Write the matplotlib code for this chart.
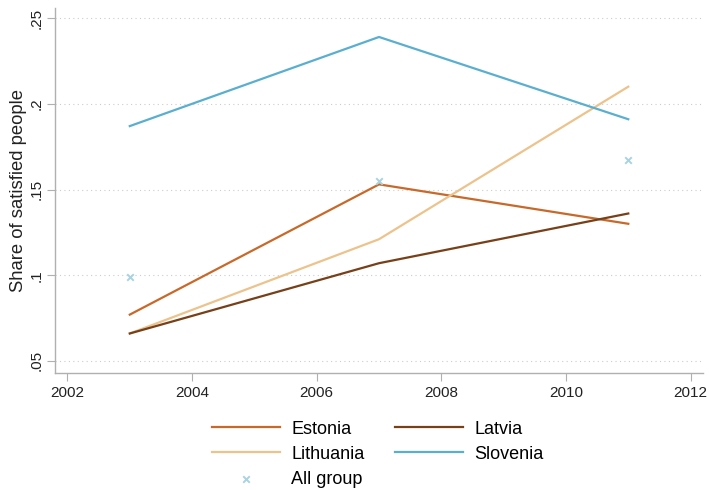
import numpy as np
import matplotlib.pyplot as plt

plt.rcParams['font.family'] = ['Liberation Sans', 'DejaVu Sans']

# survey waves
years = [2003, 2007, 2011]

# share of satisfied people by country
estonia = [0.077, 0.153, 0.130]
latvia = [0.066, 0.107, 0.136]
lithuania = [0.066, 0.121, 0.210]
slovenia = [0.187, 0.239, 0.191]
all_group = [0.099, 0.155, 0.167]

yticks = [0.05, 0.10, 0.15, 0.20, 0.25]
ytick_labels = [".05", ".1", ".15", ".2", ".25"]
xticks = [2002, 2004, 2006, 2008, 2010, 2012]

fig = plt.figure(figsize=(7.09, 4.9), dpi=100)
ax = fig.add_axes([0.0776, 0.239, 0.914, 0.745])

ax.plot(years, estonia, color="#c8692a", lw=1.6, label="Estonia")
ax.plot(years, lithuania, color="#ecc38c", lw=1.6, label="Lithuania")
ax.scatter(years, all_group, marker="x", s=22, color="#a9d3df", linewidths=1.4,
           label="All group", zorder=3)
ax.plot(years, latvia, color="#774019", lw=1.6, label="Latvia")
ax.plot(years, slovenia, color="#5aafd0", lw=1.6, label="Slovenia")

ax.set_xlim(2001.8, 2012.2)
ax.set_ylim(0.043, 0.256)
ax.set_xticks(xticks)
ax.set_yticks(yticks)
ax.set_yticklabels(ytick_labels, rotation=90, va="center")
ax.grid(axis="y", color="#cccccc", linestyle=(0, (1, 3)), lw=0.8)
ax.set_axisbelow(True)

for s in ["top", "right"]:
    ax.spines[s].set_visible(False)
for s in ["left", "bottom"]:
    ax.spines[s].set_color("#b0b0b0")
    ax.spines[s].set_linewidth(1.0)
ax.tick_params(colors="#b0b0b0", labelcolor="#222222", labelsize=11, length=6)
ax.tick_params(axis="y", pad=2)

ax.set_ylabel("Share of satisfied people", fontsize=13.3, color="#222222", labelpad=2)

handles, labels = ax.get_legend_handles_labels()
fig.legend(handles, labels, loc="upper center", ncol=2,
           bbox_to_anchor=(377.5 / 709, 1 - 408 / 490), frameon=False,
           fontsize=13, handlelength=3.8, handletextpad=0.6, columnspacing=1.68,
           labelspacing=0.45, borderpad=0.2)

fig.savefig("out.png", dpi=100)
